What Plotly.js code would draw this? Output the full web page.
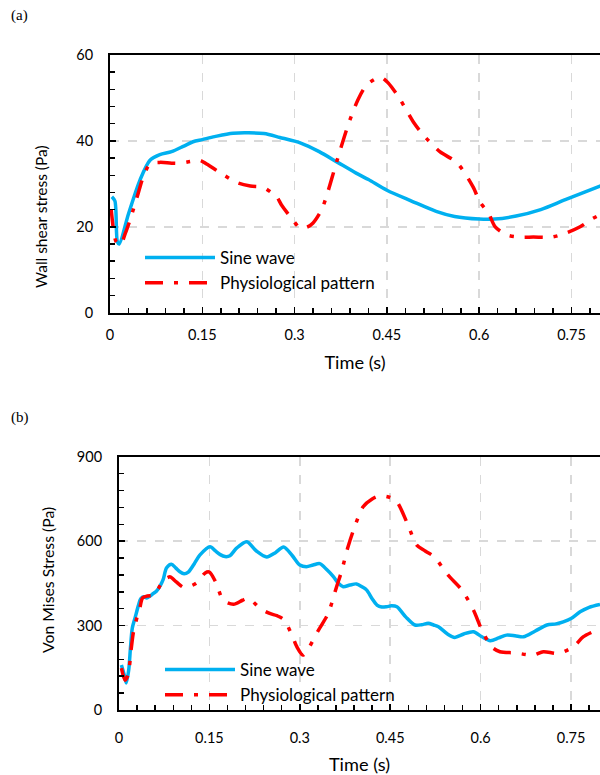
<!DOCTYPE html>
<html>
<head>
<meta charset="utf-8">
<script src="https://cdn.plot.ly/plotly-3.0.1.min.js"></script>
<style>
html,body{margin:0;padding:0;background:#fff;}
#chart{width:600px;height:775px;}
</style>
</head>
<body>
<div id="chart"></div>
<script>
// ---- Data: (a) Wall shear stress ----
var wssSineT = [0.003,0.008,0.012,0.015,0.03,0.049,0.065,0.081,0.1,0.12,0.135,0.15,0.17,0.2,0.25,0.276,0.31,0.34,0.37,0.40,0.42,0.45,0.49,0.53,0.56,0.6,0.625,0.66,0.7,0.74,0.8];
var wssSineV = [27,26,16.5,16,23,31,35.5,36.8,37.5,38.8,39.8,40.3,41,41.8,41.7,40.8,39.5,37.5,35,32.5,31,28.5,26,23.6,22.4,21.8,21.8,22.5,24,26.3,29.7];

var wssPhysT = [0.002,0.006,0.010,0.017,0.025,0.033,0.046,0.054,0.065,0.081,0.1,0.114,0.13,0.146,0.157,0.179,0.206,0.228,0.249,0.262,0.271,0.279,0.295,0.309,0.32,0.33,0.344,0.355,0.366,0.387,0.403,0.417,0.435,0.442,0.452,0.47,0.493,0.509,0.536,0.564,0.59,0.601,0.615,0.626,0.645,0.665,0.688,0.718,0.742,0.764,0.783,0.796];
var wssPhysV = [24,19,16.5,15.8,18.5,21.8,27.9,31.6,34.6,35,34.8,34.8,35.2,35.5,34.6,32.6,30.3,29.5,29.2,28,27,25,22,19.7,19.9,20.9,24,28.6,34,43.7,49.6,53,54.7,54.7,53.5,50,44.4,41.4,37.5,34.9,29.3,25.8,23.2,20,18.1,17.6,17.6,17.6,18.6,20,21.8,22.8];

// ---- Data: (b) Von Mises stress ----
var vmsSineT = [0.004,0.008,0.012,0.016,0.019,0.022,0.027,0.032,0.036,0.041,0.046,0.051,0.057,0.062,0.068,0.073,0.079,0.087,0.094,0.101,0.108,0.115,0.125,0.134,0.151,0.160,0.168,0.176,0.184,0.195,0.212,0.228,0.245,0.26,0.273,0.287,0.300,0.311,0.322,0.333,0.345,0.356,0.364,0.372,0.383,0.394,0.403,0.411,0.42,0.428,0.436,0.444,0.452,0.461,0.476,0.491,0.502,0.513,0.522,0.53,0.545,0.557,0.572,0.588,0.602,0.616,0.63,0.643,0.657,0.671,0.69,0.710,0.725,0.737,0.75,0.765,0.78,0.798];
var vmsSineV = [160,130,96,140,220,290,330,370,395,402,398,404,414,422,440,462,505,518,505,491,484,490,520,550,580,565,552,545,548,575,598,565,544,560,579,550,515,509,515,520,498,473,450,438,444,448,438,426,395,373,366,367,370,367,330,302,303,308,302,296,270,258,270,278,260,246,256,266,264,260,280,302,306,313,325,349,365,375];

var vmsPhysT = [0.004,0.010,0.015,0.02,0.024,0.030,0.035,0.039,0.047,0.057,0.065,0.073,0.080,0.085,0.095,0.107,0.118,0.129,0.143,0.150,0.161,0.173,0.19,0.205,0.215,0.234,0.25,0.262,0.273,0.287,0.295,0.305,0.311,0.331,0.347,0.361,0.369,0.38,0.39,0.405,0.42,0.433,0.45,0.461,0.478,0.494,0.508,0.523,0.546,0.569,0.588,0.602,0.618,0.632,0.657,0.687,0.704,0.729,0.754,0.770,0.790,0.798];
var vmsPhysV = [149,106,124,213,278,330,367,398,405,408,430,461,470,473,455,436,440,452,487,490,452,390,376,390,397,361,343,335,322,266,225,195,207,284,343,438,491,580,645,722,750,761,755,740,665,586,565,544,479,426,355,284,225,207,203,195,207,201,225,260,282,291];

// ---- Tick labels ----
var timeTickVals = [0,0.15,0.3,0.45,0.6,0.75];
var timeTickText = ['0','0.15','0.3','0.45','0.6','0.75'];
var wssTickVals = [0,20,40,60];
var wssTickText = ['0','20','40','60'];
var vmsTickVals = [0,300,600,900];
var vmsTickText = ['0','300','600','900'];

var seriesNames = ['Sine wave','Physiological pattern'];
var axisTitles = ['Time (s)','Wall shear stress (Pa)','Von Mises Stress (Pa)'];

var BLUE = '#00B0F0', RED = '#FF0000';
var FONT = 'Lato, "Open Sans", sans-serif';
var redDash = '18px,11px,4px,11px';

var traces = [
  {x: wssSineT, y: wssSineV, name: seriesNames[0], type:'scatter', mode:'lines',
   line:{color:BLUE, width:3.5, shape:'spline', smoothing:0.8}, xaxis:'x', yaxis:'y', legend:'legend'},
  {x: wssPhysT, y: wssPhysV, name: seriesNames[1], type:'scatter', mode:'lines',
   line:{color:RED, width:3.5, dash:redDash, shape:'spline', smoothing:0.8}, xaxis:'x', yaxis:'y', legend:'legend'},
  {x: vmsSineT, y: vmsSineV, name: seriesNames[0], type:'scatter', mode:'lines',
   line:{color:BLUE, width:3.5, shape:'spline', smoothing:0.8}, xaxis:'x2', yaxis:'y2', legend:'legend2'},
  {x: vmsPhysT, y: vmsPhysV, name: seriesNames[1], type:'scatter', mode:'lines',
   line:{color:RED, width:3.5, dash:redDash, shape:'spline', smoothing:0.8}, xaxis:'x2', yaxis:'y2', legend:'legend2'}
];

function xAxis(dom, anchor, rng, standoff){
  return {
    domain: dom, anchor: anchor, range: rng, autorange:false,
    tickmode:'array', tickvals: timeTickVals, ticktext: timeTickText,
    ticks:'inside', ticklen:6, tickwidth:1.5, tickcolor:'#000',
    minor:{tickmode:'linear', tick0:0, dtick:0.03, ticks:'inside', ticklen:5, tickwidth:1.5, tickcolor:'#000', showgrid:false},
    showline:true, linecolor:'#000', linewidth:2, mirror:true,
    showgrid:true, gridcolor:'#d9d9d9', gridwidth:1.5, griddash:'dash',
    zeroline:false, ticklabelstandoff: standoff,
    tickfont:{family:FONT, size:14.5, color:'#000'},
    title:{text:axisTitles[0], font:{family:FONT, size:18.2, color:'#000'}, standoff: 14},
    automargin:false
  };
}
function yAxis(dom, anchor, rng, vals, txt, minorD){
  return {
    domain: dom, anchor: anchor, range: rng, autorange:false,
    tickmode:'array', tickvals: vals, ticktext: txt,
    ticks:'inside', ticklen:6, tickwidth:1.5, tickcolor:'#000',
    minor:{tickmode:'linear', tick0:0, dtick:minorD, ticks:'inside', ticklen:5, tickwidth:1.5, tickcolor:'#000', showgrid:false},
    showline:true, linecolor:'#000', linewidth:2,
    showgrid:true, gridcolor:'#d9d9d9', gridwidth:1.5, griddash:'dash',
    zeroline:false, ticklabelstandoff: 12,
    tickfont:{family:FONT, size:14.5, color:'#000'},
    automargin:false
  };
}

var legendFont = {family:FONT, size:17, color:'#000'};
var layout = {
  width:600, height:775,
  margin:{l:0, r:0, t:0, b:0},
  paper_bgcolor:'#fff', plot_bgcolor:'#fff',
  showlegend:true,
  xaxis: xAxis([110/600, 1], 'y', [0, 0.7963], 8),
  yaxis: yAxis([1-312.7/775, 1-55/775], 'x', [0, 60], wssTickVals, wssTickText, 4),
  xaxis2: xAxis([119/600, 1], 'y2', [0, 0.798], 14),
  yaxis2: yAxis([1-710/775, 1-456.7/775], 'x2', [0, 900], vmsTickVals, vmsTickText, 60),
  legend: {x:140/600, y:1-240/775, xanchor:'left', yanchor:'top', bgcolor:'rgba(0,0,0,0)', borderwidth:0,
           font:legendFont, itemwidth:70, tracegroupgap:0},
  legend2: {x:160/600, y:1-652/775, xanchor:'left', yanchor:'top', bgcolor:'rgba(0,0,0,0)', borderwidth:0,
           font:legendFont, itemwidth:70, tracegroupgap:0},
  annotations: [
    {text:'(a)', xref:'paper', yref:'paper', x:9/600, y:1-16/775, xanchor:'left', yanchor:'middle', showarrow:false,
     font:{family:'"Liberation Serif", "Times New Roman", serif', size:15, color:'#000'}},
    {text:'(b)', xref:'paper', yref:'paper', x:9/600, y:1-418/775, xanchor:'left', yanchor:'middle', showarrow:false,
     font:{family:'"Liberation Serif", "Times New Roman", serif', size:15, color:'#000'}},
    {text:axisTitles[1], xref:'paper', yref:'paper', x:41/600, y:1-217/775, xanchor:'center', yanchor:'middle',
     textangle:-90, showarrow:false, font:{family:FONT, size:15.5, color:'#000'}},
    {text:axisTitles[2], xref:'paper', yref:'paper', x:47/600, y:1-580/775, xanchor:'center', yanchor:'middle',
     textangle:-90, showarrow:false, font:{family:FONT, size:15.8, color:'#000'}}
  ]
};

Plotly.newPlot('chart', traces, layout, {displayModeBar:false, staticPlot:true});
</script>
</body>
</html>
